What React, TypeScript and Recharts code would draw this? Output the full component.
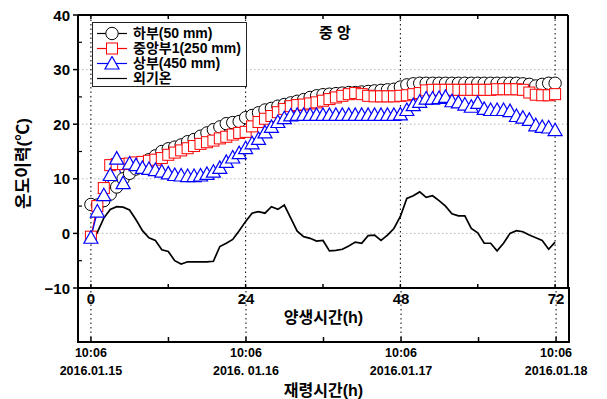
import {
  ComposedChart, Line, XAxis, YAxis, CartesianGrid, ReferenceLine, ReferenceArea, Legend,
} from 'recharts'

// 양생시간 (h)
const HOURS = [
  0, 1, 2, 3, 4, 5, 6, 7, 8, 9,
  10, 11, 12, 13, 14, 15, 16, 17, 18, 19,
  20, 21, 22, 23, 24, 25, 26, 27, 28, 29,
  30, 31, 32, 33, 34, 35, 36, 37, 38, 39,
  40, 41, 42, 43, 44, 45, 46, 47, 48, 49,
  50, 51, 52, 53, 54, 55, 56, 57, 58, 59,
  60, 61, 62, 63, 64, 65, 66, 67, 68, 69,
  70, 71, 72,
]

// 하부(50 mm)
const LOWER = [
  5.3, 5.2, 6.0, 7.2, 8.5, 10.0, 11.0, 11.8, 12.8, 13.5,
  14.2, 15.0, 15.5, 15.8, 16.2, 16.8, 17.2, 17.8, 18.4, 19.0,
  19.5, 20.1, 20.3, 20.5, 21.2, 21.6, 22.1, 22.6, 22.9, 23.3,
  23.6, 23.9, 24.2, 24.5, 24.9, 25.2, 25.4, 25.5, 25.6, 25.7,
  25.8, 25.8, 25.9, 26.0, 26.1, 26.2, 26.3, 26.4, 26.8, 27.2,
  27.4, 27.5, 27.5, 27.5, 27.5, 27.5, 27.5, 27.5, 27.5, 27.5,
  27.5, 27.5, 27.5, 27.5, 27.5, 27.5, 27.5, 27.4, 27.3, 27.0,
  27.3, 27.5, 27.5,
]

// 중앙부1(250 mm)
const MIDDLE = [
  -0.6, 5.0, 8.3, 12.5, 12.7, 12.7, 12.8, 13.0, 13.1, 13.3,
  13.5, 13.8, 14.4, 14.8, 15.2, 15.6, 16.0, 16.4, 16.7, 17.0,
  17.4, 17.7, 18.1, 18.4, 18.6, 19.6, 20.4, 21.0, 21.5, 22.2,
  22.8, 23.3, 23.5, 23.6, 23.8, 24.0, 24.3, 24.6, 24.9, 25.2,
  25.5, 25.7, 25.5, 25.2, 25.1, 25.1, 25.1, 25.1, 25.2, 25.3,
  25.5, 25.7, 26.2, 26.3, 26.3, 26.3, 26.3, 26.3, 26.3, 26.3,
  26.3, 26.3, 26.3, 26.4, 26.4, 26.4, 26.4, 26.3, 25.8, 25.4,
  25.3, 25.3, 25.5,
]

// 상부(450 mm)
const UPPER = [
  -0.8, 4.0, 7.0, 10.7, 13.7, 9.2, 12.8, 12.5, 12.0, 11.8,
  11.6, 11.3, 11.0, 10.7, 10.6, 10.5, 10.5, 10.6, 10.9, 11.3,
  12.0, 13.1, 13.9, 14.7, 15.6, 16.5, 17.3, 18.5, 19.5, 20.4,
  21.1, 21.6, 21.7, 21.7, 21.7, 21.7, 21.7, 21.7, 21.7, 21.7,
  21.7, 21.7, 21.7, 21.7, 21.7, 21.7, 21.7, 21.7, 21.8, 22.6,
  23.5, 24.1, 24.7, 24.7, 24.8, 25.0, 24.2, 24.0, 23.6, 23.2,
  23.9, 22.8, 22.6, 22.6, 22.6, 22.4, 21.5, 21.2, 20.8, 19.8,
  19.5, 19.4, 18.9,
]

// 외기온
const AIR = [
  -1.9, 0.2, 2.8, 4.4, 4.9, 4.8, 4.3, 2.5, 0.5, -0.8,
  -1.3, -3.0, -3.3, -5.0, -5.6, -5.2, -5.2, -5.2, -5.2, -5.1,
  -2.4, -1.8, -1.1, 0.5, 2.2, 3.7, 4.0, 3.7, 4.9, 4.4,
  5.2, 2.8, 0.4, -0.6, -0.9, -1.4, -1.3, -3.2, -3.1, -2.9,
  -2.3, -1.6, -1.8, -0.4, -0.3, -1.3, -0.3, 0.9, 3.1, 6.4,
  6.9, 7.6, 6.6, 6.9, 6.0, 5.0, 3.6, 3.2, 3.2, 0.9,
  0.1, -1.8, -1.8, -3.2, -1.8, 0.0, 0.5, 0.3, -0.3, -0.8,
  -1.3, -2.9, -1.6,
]

const X_TICKS = [0, 12, 24, 36, 48, 60, 72]
const MAJOR_X = [0, 24, 48, 72]
const Y_TICKS = [-10, -5, 0, 5, 10, 15, 20, 25, 30, 35, 40]
const GRID_Y = [0, 10, 20, 30]
const TIME_LABEL = '10:06'
const DATE_LABELS = ['2016.01.15', '2016. 01.16', '2016.01.17', '2016.01.18']

const SERIES = [
  { key: 'lower', name: '하부(50 mm)', color: '#000000', shape: 'circle' },
  { key: 'middle', name: '중앙부1(250 mm)', color: '#ff0000', shape: 'square' },
  { key: 'upper', name: '상부(450 mm)', color: '#0000ff', shape: 'triangle' },
  { key: 'air', name: '외기온', color: '#000000', shape: 'none' },
]

const FONT = '"Liberation Sans", Arial, "Noto Sans CJK KR", sans-serif'
const X_DOMAIN = [-2, 74]
const W = 607
const H = 399

const data = HOURS.map((h, i) => ({
  h, lower: LOWER[i], middle: MIDDLE[i], upper: UPPER[i], air: AIR[i],
}))

function Marker({ shape, cx, cy, color }: { shape: string; cx: number; cy: number; color: string }) {
  if (shape === 'circle') {
    return <circle cx={cx} cy={cy} r={6.2} fill="#fff" stroke={color} strokeWidth={1} />
  }
  if (shape === 'square') {
    return <rect x={cx - 5.5} y={cy - 5.5} width={11} height={11} fill="#fff" stroke={color} strokeWidth={1} />
  }
  if (shape === 'triangle') {
    return (
      <polygon
        points={`${cx},${cy - 7} ${cx - 7},${cy + 5.5} ${cx + 7},${cy + 5.5}`}
        fill="#fff" stroke={color} strokeWidth={1.2}
      />
    )
  }
  return null
}

function makeDot(shape: string, color: string) {
  return (p: any) => {
    if (p.cx == null || p.cy == null) return <g key={`${shape}-${p.index}`} />
    return (
      <g key={`${shape}-${p.index}`}>
        <Marker shape={shape} cx={p.cx} cy={p.cy} color={color} />
      </g>
    )
  }
}

function LeftTick({ x, y, payload }: any) {
  const v = payload.value as number
  const major = v % 10 === 0
  return (
    <g>
      {major
        ? <line x1={x - 5} x2={x} y1={y} y2={y} stroke="#000" strokeWidth={1.5} />
        : <line x1={x} x2={x + 4} y1={y} y2={y} stroke="#000" strokeWidth={1.2} />}
      {major && (
        <text x={x - 8} y={y + 5.5} textAnchor="end" fontSize={15} fontWeight={700} fontFamily={FONT} fill="#000">
          {v < 0 ? `\u2212${-v}` : v}
        </text>
      )}
    </g>
  )
}

function RightTick({ x, y }: any) {
  return <line x1={x} x2={x + 3} y1={y} y2={y} stroke="#000" strokeWidth={1.2} />
}

function BottomTick({ x, y }: any) {
  return <line x1={x} x2={x} y1={y} y2={y - 4} stroke="#000" strokeWidth={1.5} />
}

function TopTick({ x, y }: any) {
  return <line x1={x} x2={x} y1={y} y2={y + 4} stroke="#000" strokeWidth={1.5} />
}

function DateTick({ x, y, payload }: any) {
  const i = MAJOR_X.indexOf(payload.value)
  return (
    <g>
      <line x1={x} x2={x} y1={y} y2={y - 5} stroke="#000" strokeWidth={1.5} />
      {i >= 0 && (
        <text x={x} y={y + 15} textAnchor="middle" fontSize={12.5} fontWeight={700} fontFamily={FONT} fill="#000">
          <tspan x={x}>{TIME_LABEL}</tspan>
          <tspan x={x} dy={18}>{DATE_LABELS[i]}</tspan>
        </text>
      )}
    </g>
  )
}

function LegendBox() {
  return (
    <div style={{
      border: '1.5px solid #222', background: '#fff', width: 155, height: 65,
      boxSizing: 'border-box', padding: '3px 0 0 3px',
    }}>
      {SERIES.map(s => (
        <div key={s.key} style={{ display: 'flex', alignItems: 'center', height: 15 }}>
          <svg width={34} height={15} style={{ display: 'block' }}>
            <line x1={1} x2={31} y1={7.5} y2={7.5} stroke={s.color} strokeWidth={1.2} />
            <Marker shape={s.shape} cx={16} cy={7.5} color={s.color} />
          </svg>
          <span style={{
            marginLeft: 3, fontSize: 14, fontWeight: 700, fontFamily: FONT, color: '#000', lineHeight: '15px',
          }}>
            {s.name}
          </span>
        </div>
      ))}
    </div>
  )
}

function YLabel({ viewBox }: any) {
  const cx = viewBox.x + 23
  const cy = viewBox.y + viewBox.height / 2 + 12
  return (
    <text
      x={cx} y={cy} textAnchor="middle" dominantBaseline="central"
      transform={`rotate(-90, ${cx}, ${cy})`}
      fontSize={17} fontWeight={700} fontFamily={FONT} fill="#000"
    >
      온도이력(℃)
    </text>
  )
}

export default function App() {
  const axisLine = { stroke: '#000', strokeWidth: 2 }
  const labelStyle = { fontSize: 15, fontWeight: 700, fontFamily: FONT, fill: '#000' }
  return (
    <div style={{ position: 'absolute', left: 0, top: 0, width: W, height: H, background: '#fff' }}>
      <ComposedChart width={W} height={300} data={data} margin={{ top: 14, right: 38, bottom: 11, left: 0 }}>
        <CartesianGrid vertical={false} horizontalValues={GRID_Y} stroke="#b5b5b5" strokeDasharray="1.5 2.5" />
        <CartesianGrid horizontal={false} verticalValues={MAJOR_X} stroke="#000" strokeDasharray="1.5 3" />
        <XAxis
          type="number" dataKey="h" domain={X_DOMAIN} ticks={X_TICKS} interval={0}
          height={1} axisLine={axisLine} tickLine={false} tickSize={0} tickMargin={0} tick={BottomTick}
        />
        <XAxis
          xAxisId="top" orientation="top" type="number" dataKey="h" domain={X_DOMAIN} ticks={X_TICKS} interval={0}
          height={1} axisLine={axisLine} tickLine={false} tickSize={0} tickMargin={0} tick={TopTick}
        />
        <YAxis
          domain={[-10, 40]} ticks={Y_TICKS} interval={0} width={78}
          axisLine={axisLine} tickLine={false} tickSize={0} tickMargin={0} tick={LeftTick}
          label={<YLabel />}
        />
        <YAxis
          yAxisId="right" orientation="right" domain={[-10, 40]} ticks={Y_TICKS} interval={0} width={1}
          axisLine={axisLine} tickLine={false} tickSize={0} tickMargin={0} tick={RightTick}
        />
        <Legend
          layout="vertical" align="center" verticalAlign="middle"
          wrapperStyle={{ position: 'absolute', left: 92, top: 22, width: 155 }}
          content={() => <LegendBox />}
        />
        <Line dataKey="lower" name="하부(50 mm)" stroke="#000" strokeWidth={1} dot={makeDot('circle', '#000000')} activeDot={false} isAnimationActive={false} />
        <Line dataKey="middle" name="중앙부1(250 mm)" stroke="#ff0000" strokeWidth={1} dot={makeDot('square', '#ff0000')} activeDot={false} isAnimationActive={false} />
        <Line dataKey="upper" name="상부(450 mm)" stroke="#0000ff" strokeWidth={1.2} dot={makeDot('triangle', '#0000ff')} activeDot={false} isAnimationActive={false} />
        <Line dataKey="air" name="외기온" stroke="#000" strokeWidth={1.7} dot={false} activeDot={false} isAnimationActive={false} />
      </ComposedChart>

      <div style={{
        position: 'absolute', left: 285, top: 21, width: 100, textAlign: 'center',
        fontSize: 15, fontWeight: 700, fontFamily: FONT, color: '#000',
      }}>
        중 앙
      </div>

      <div style={{ position: 'absolute', left: 0, top: 0 }}>
        <ComposedChart width={W} height={H} data={data} margin={{ top: 288, right: 38, bottom: 56, left: 78 }}>
          <XAxis
            type="number" dataKey="h" domain={X_DOMAIN} ticks={X_TICKS} interval={0}
            height={1} axisLine={false} tickLine={false} tickSize={0} tickMargin={0} tick={DateTick}
            label={{ value: '재령시간(h)', position: 'bottom', offset: 42, ...labelStyle, fontSize: 16 }}
          />
          <YAxis hide type="number" domain={[0, 1]} allowDataOverflow />
          <ReferenceArea
            x1={X_DOMAIN[0]} x2={X_DOMAIN[1]} y1={0} y2={1}
            fill="#fff" fillOpacity={0} stroke="#000" strokeWidth={2} strokeOpacity={1} ifOverflow="visible"
            label={{ value: '양생시간(h)', position: 'center', dy: 2, ...labelStyle, fontSize: 16 }}
          />
          {MAJOR_X.map(v => (
            <ReferenceLine
              key={v} x={v} stroke="#000" strokeDasharray="1.5 3" ifOverflow="visible"
              label={{ value: String(v), position: 'insideTop', offset: 5, ...labelStyle }}
            />
          ))}
        </ComposedChart>
      </div>
    </div>
  )
}
